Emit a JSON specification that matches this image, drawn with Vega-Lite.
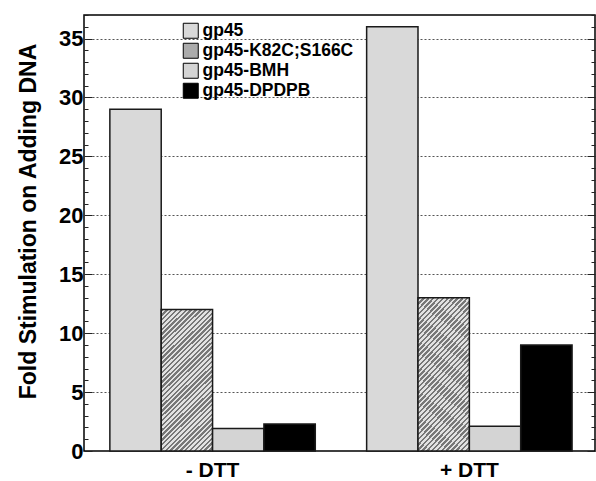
{
  "$schema": "https://vega.github.io/schema/vega-lite/v6.json",
  "width": 511,
  "height": 436,
  "autosize": {"type": "none"},
  "padding": {"left": 84, "top": 15, "right": 1, "bottom": 30},
  "background": "white",
  "config": {
    "font": "Liberation Sans",
    "view": {"stroke": "black", "strokeWidth": 1.5},
    "axis": {"labelFont": "Liberation Sans", "titleFont": "Liberation Sans", "labelColor": "black", "titleColor": "black"}
  },
  "data": {
    "values": [
      {"group": "- DTT", "protein": "gp45", "fold": 29.0},
      {"group": "- DTT", "protein": "gp45-K82C;S166C", "fold": 12.0},
      {"group": "- DTT", "protein": "gp45-BMH", "fold": 1.9},
      {"group": "- DTT", "protein": "gp45-DPDPB", "fold": 2.3},
      {"group": "+ DTT", "protein": "gp45", "fold": 36.0},
      {"group": "+ DTT", "protein": "gp45-K82C;S166C", "fold": 13.0},
      {"group": "+ DTT", "protein": "gp45-BMH", "fold": 2.1},
      {"group": "+ DTT", "protein": "gp45-DPDPB", "fold": 9.0}
    ]
  },
  "encoding": {
    "x": {
      "field": "group", "type": "nominal", "sort": ["- DTT", "+ DTT"],
      "scale": {"paddingInner": 0.2, "paddingOuter": 0.095, "align": 0.53},
      "axis": {"title": null, "labelAngle": 0, "ticks": false, "domain": false, "labelFontSize": 21, "labelFontWeight": "bold", "labelPadding": 8}
    },
    "xOffset": {"field": "protein", "type": "nominal", "sort": ["gp45", "gp45-K82C;S166C", "gp45-BMH", "gp45-DPDPB"]}
  },
  "layer": [
    {
      "mark": {"type": "bar", "stroke": "#1a1a1a", "strokeWidth": 1.5, "opacity": 1},
      "encoding": {
        "y": {
          "field": "fold", "type": "quantitative",
          "scale": {"domain": [0, 37], "nice": false},
          "axis": {
            "title": "Fold Stimulation on Adding DNA", "titleFontSize": 23, "titleFontWeight": "bold", "titleX": -49, "titleY": 206, "titleBaseline": "alphabetic", "titleAngle": -90, "titleAlign": "center",
            "values": [0,1,2,3,4,5,6,7,8,9,10,11,12,13,14,15,16,17,18,19,20,21,22,23,24,25,26,27,28,29,30,31,32,33,34,35,36,37],
            "labelExpr": "datum.value % 5 == 0 ? datum.label : ''",
            "labelFontSize": 22, "labelFontWeight": "bold", "labelPadding": 9,
            "domain": false,
            "tickColor": "#222", "tickWidth": 1,
            "tickSize": {"condition": {"test": "datum.value % 5 == 0", "value": -8}, "value": -4},
            "grid": true, "gridColor": "#555555", "gridDash": [2, 2], "gridWidth": 1,
            "gridOpacity": {"condition": {"test": "datum.value % 5 == 0 && datum.value > 0", "value": 1}, "value": 0}
          }
        },
        "color": {
          "condition": {"test": "datum.protein === 'gp45-K82C;S166C'", "value": {"gradient": "linear", "x1": 0, "y1": 0, "x2": 0.433, "y2": 1.204, "stops": [
            {"offset": 0, "color": "#777777"}, {"offset": 0.0125, "color": "#777777"}, {"offset": 0.0125, "color": "#e2e2e2"}, {"offset": 0.025, "color": "#e2e2e2"},
            {"offset": 0.025, "color": "#777777"}, {"offset": 0.0375, "color": "#777777"}, {"offset": 0.0375, "color": "#e2e2e2"}, {"offset": 0.05, "color": "#e2e2e2"},
            {"offset": 0.05, "color": "#777777"}, {"offset": 0.0625, "color": "#777777"}, {"offset": 0.0625, "color": "#e2e2e2"}, {"offset": 0.075, "color": "#e2e2e2"},
            {"offset": 0.075, "color": "#777777"}, {"offset": 0.0875, "color": "#777777"}, {"offset": 0.0875, "color": "#e2e2e2"}, {"offset": 0.1, "color": "#e2e2e2"},
            {"offset": 0.1, "color": "#777777"}, {"offset": 0.1125, "color": "#777777"}, {"offset": 0.1125, "color": "#e2e2e2"}, {"offset": 0.125, "color": "#e2e2e2"},
            {"offset": 0.125, "color": "#777777"}, {"offset": 0.1375, "color": "#777777"}, {"offset": 0.1375, "color": "#e2e2e2"}, {"offset": 0.15, "color": "#e2e2e2"},
            {"offset": 0.15, "color": "#777777"}, {"offset": 0.1625, "color": "#777777"}, {"offset": 0.1625, "color": "#e2e2e2"}, {"offset": 0.175, "color": "#e2e2e2"},
            {"offset": 0.175, "color": "#777777"}, {"offset": 0.1875, "color": "#777777"}, {"offset": 0.1875, "color": "#e2e2e2"}, {"offset": 0.2, "color": "#e2e2e2"},
            {"offset": 0.2, "color": "#777777"}, {"offset": 0.2125, "color": "#777777"}, {"offset": 0.2125, "color": "#e2e2e2"}, {"offset": 0.225, "color": "#e2e2e2"},
            {"offset": 0.225, "color": "#777777"}, {"offset": 0.2375, "color": "#777777"}, {"offset": 0.2375, "color": "#e2e2e2"}, {"offset": 0.25, "color": "#e2e2e2"},
            {"offset": 0.25, "color": "#777777"}, {"offset": 0.2625, "color": "#777777"}, {"offset": 0.2625, "color": "#e2e2e2"}, {"offset": 0.275, "color": "#e2e2e2"},
            {"offset": 0.275, "color": "#777777"}, {"offset": 0.2875, "color": "#777777"}, {"offset": 0.2875, "color": "#e2e2e2"}, {"offset": 0.3, "color": "#e2e2e2"},
            {"offset": 0.3, "color": "#777777"}, {"offset": 0.3125, "color": "#777777"}, {"offset": 0.3125, "color": "#e2e2e2"}, {"offset": 0.325, "color": "#e2e2e2"},
            {"offset": 0.325, "color": "#777777"}, {"offset": 0.3375, "color": "#777777"}, {"offset": 0.3375, "color": "#e2e2e2"}, {"offset": 0.35, "color": "#e2e2e2"},
            {"offset": 0.35, "color": "#777777"}, {"offset": 0.3625, "color": "#777777"}, {"offset": 0.3625, "color": "#e2e2e2"}, {"offset": 0.375, "color": "#e2e2e2"},
            {"offset": 0.375, "color": "#777777"}, {"offset": 0.3875, "color": "#777777"}, {"offset": 0.3875, "color": "#e2e2e2"}, {"offset": 0.4, "color": "#e2e2e2"},
            {"offset": 0.4, "color": "#777777"}, {"offset": 0.4125, "color": "#777777"}, {"offset": 0.4125, "color": "#e2e2e2"}, {"offset": 0.425, "color": "#e2e2e2"},
            {"offset": 0.425, "color": "#777777"}, {"offset": 0.4375, "color": "#777777"}, {"offset": 0.4375, "color": "#e2e2e2"}, {"offset": 0.45, "color": "#e2e2e2"},
            {"offset": 0.45, "color": "#777777"}, {"offset": 0.4625, "color": "#777777"}, {"offset": 0.4625, "color": "#e2e2e2"}, {"offset": 0.475, "color": "#e2e2e2"},
            {"offset": 0.475, "color": "#777777"}, {"offset": 0.4875, "color": "#777777"}, {"offset": 0.4875, "color": "#e2e2e2"}, {"offset": 0.5, "color": "#e2e2e2"},
            {"offset": 0.5, "color": "#777777"}, {"offset": 0.5125, "color": "#777777"}, {"offset": 0.5125, "color": "#e2e2e2"}, {"offset": 0.525, "color": "#e2e2e2"},
            {"offset": 0.525, "color": "#777777"}, {"offset": 0.5375, "color": "#777777"}, {"offset": 0.5375, "color": "#e2e2e2"}, {"offset": 0.55, "color": "#e2e2e2"},
            {"offset": 0.55, "color": "#777777"}, {"offset": 0.5625, "color": "#777777"}, {"offset": 0.5625, "color": "#e2e2e2"}, {"offset": 0.575, "color": "#e2e2e2"},
            {"offset": 0.575, "color": "#777777"}, {"offset": 0.5875, "color": "#777777"}, {"offset": 0.5875, "color": "#e2e2e2"}, {"offset": 0.6, "color": "#e2e2e2"},
            {"offset": 0.6, "color": "#777777"}, {"offset": 0.6125, "color": "#777777"}, {"offset": 0.6125, "color": "#e2e2e2"}, {"offset": 0.625, "color": "#e2e2e2"},
            {"offset": 0.625, "color": "#777777"}, {"offset": 0.6375, "color": "#777777"}, {"offset": 0.6375, "color": "#e2e2e2"}, {"offset": 0.65, "color": "#e2e2e2"},
            {"offset": 0.65, "color": "#777777"}, {"offset": 0.6625, "color": "#777777"}, {"offset": 0.6625, "color": "#e2e2e2"}, {"offset": 0.675, "color": "#e2e2e2"},
            {"offset": 0.675, "color": "#777777"}, {"offset": 0.6875, "color": "#777777"}, {"offset": 0.6875, "color": "#e2e2e2"}, {"offset": 0.7, "color": "#e2e2e2"},
            {"offset": 0.7, "color": "#777777"}, {"offset": 0.7125, "color": "#777777"}, {"offset": 0.7125, "color": "#e2e2e2"}, {"offset": 0.725, "color": "#e2e2e2"},
            {"offset": 0.725, "color": "#777777"}, {"offset": 0.7375, "color": "#777777"}, {"offset": 0.7375, "color": "#e2e2e2"}, {"offset": 0.75, "color": "#e2e2e2"},
            {"offset": 0.75, "color": "#777777"}, {"offset": 0.7625, "color": "#777777"}, {"offset": 0.7625, "color": "#e2e2e2"}, {"offset": 0.775, "color": "#e2e2e2"},
            {"offset": 0.775, "color": "#777777"}, {"offset": 0.7875, "color": "#777777"}, {"offset": 0.7875, "color": "#e2e2e2"}, {"offset": 0.8, "color": "#e2e2e2"},
            {"offset": 0.8, "color": "#777777"}, {"offset": 0.8125, "color": "#777777"}, {"offset": 0.8125, "color": "#e2e2e2"}, {"offset": 0.825, "color": "#e2e2e2"},
            {"offset": 0.825, "color": "#777777"}, {"offset": 0.8375, "color": "#777777"}, {"offset": 0.8375, "color": "#e2e2e2"}, {"offset": 0.85, "color": "#e2e2e2"},
            {"offset": 0.85, "color": "#777777"}, {"offset": 0.8625, "color": "#777777"}, {"offset": 0.8625, "color": "#e2e2e2"}, {"offset": 0.875, "color": "#e2e2e2"},
            {"offset": 0.875, "color": "#777777"}, {"offset": 0.8875, "color": "#777777"}, {"offset": 0.8875, "color": "#e2e2e2"}, {"offset": 0.9, "color": "#e2e2e2"},
            {"offset": 0.9, "color": "#777777"}, {"offset": 0.9125, "color": "#777777"}, {"offset": 0.9125, "color": "#e2e2e2"}, {"offset": 0.925, "color": "#e2e2e2"},
            {"offset": 0.925, "color": "#777777"}, {"offset": 0.9375, "color": "#777777"}, {"offset": 0.9375, "color": "#e2e2e2"}, {"offset": 0.95, "color": "#e2e2e2"},
            {"offset": 0.95, "color": "#777777"}, {"offset": 0.9625, "color": "#777777"}, {"offset": 0.9625, "color": "#e2e2e2"}, {"offset": 0.975, "color": "#e2e2e2"},
            {"offset": 0.975, "color": "#777777"}, {"offset": 0.9875, "color": "#777777"}, {"offset": 0.9875, "color": "#e2e2e2"}, {"offset": 1, "color": "#e2e2e2"}
          ]}},
          "field": "protein", "type": "nominal",
          "sort": ["gp45", "gp45-K82C;S166C", "gp45-BMH", "gp45-DPDPB"],
          "scale": {
            "domain": ["gp45", "gp45-K82C;S166C", "gp45-BMH", "gp45-DPDPB"],
            "range": ["#d9d9d9", "#ababab", "#d4d4d4", "#000000"]
          },
          "legend": {
            "title": null, "orient": "none", "legendX": 98, "legendY": 7, "padding": 0, "offset": 0,
            "symbolType": "square", "symbolSize": 225, "symbolStrokeColor": "black", "symbolStrokeWidth": 1, "symbolOpacity": 1,
            "labelFontSize": 17.5, "labelFontWeight": "bold", "labelColor": "black", "labelFont": "Liberation Sans", "labelOffset": 3, "rowPadding": 0, "labelLimit": 300
          }
        }
      }
    },
    {
      "mark": {"type": "bar", "opacity": 0},
      "encoding": {
        "y": {
          "field": "fold", "type": "quantitative",
          "axis": {
            "orient": "right", "title": null, "labels": false, "domain": false, "grid": false,
            "values": [0,1,2,3,4,5,6,7,8,9,10,11,12,13,14,15,16,17,18,19,20,21,22,23,24,25,26,27,28,29,30,31,32,33,34,35,36,37],
            "tickColor": "#222", "tickWidth": 1,
            "tickSize": {"condition": {"test": "datum.value % 5 == 0", "value": -8}, "value": -4}
          }
        }
      }
    }
  ],
  "resolve": {"axis": {"y": "independent"}}
}
